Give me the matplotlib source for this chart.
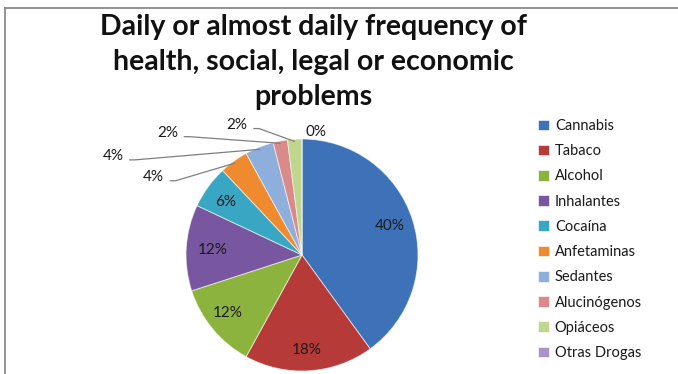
import matplotlib
matplotlib.use("Agg")
import matplotlib.pyplot as plt
from matplotlib.lines import Line2D
import numpy as np

categories = ["Cannabis", "Tabaco", "Alcohol", "Inhalantes", "Cocaína",
              "Anfetaminas", "Sedantes", "Alucinógenos", "Opiáceos", "Otras Drogas"]
values = [40, 18, 12, 12, 6, 4, 4, 2, 2, 0]
labels = ["40%", "18%", "12%", "12%", "6%", "4%", "4%", "2%", "2%", "0%"]
colors = ["#3D72B9", "#B63B38", "#8DB33F", "#7857A0", "#39A6C3",
          "#F08A2F", "#8EAEDB", "#D98A89", "#BFD68E", "#A993C9"]

# label layout (data coords, pie radius = 1); leader flag
label_pos = [(0.76, 0.25), (0.04, -0.82), (-0.64, -0.50), (-0.77, 0.04),
             (-0.66, 0.46), (-1.28, 0.67), (-1.63, 0.85), (-1.16, 1.05),
             (-0.56, 1.12), (0.12, 1.06)]
leader = [False, False, False, False, False, True, True, True, True, False]

W, H = 678, 374
fig = plt.figure(figsize=(W / 100, H / 100), dpi=100)
fig.patch.set_facecolor("white")

cx, cy, r = 302, 255, 116
ax = fig.add_axes([(cx - r) / W, (H - cy - r) / H, 2 * r / W, 2 * r / H])
wedges, _ = ax.pie(values, colors=colors, startangle=90, counterclock=False,
                   radius=1, wedgeprops=dict(edgecolor=(1, 1, 1, 0.6), linewidth=0.7))
ax.set_xlim(-1, 1)
ax.set_ylim(-1, 1)
ax.set_aspect("equal")
ax.axis("off")

font = "Lato"
for w, lab, (lx, ly), ld in zip(wedges, labels, label_pos, leader):
    ax.text(lx, ly, lab, ha="center", va="center", fontsize=11,
            family=font, color="#1a1a1a", clip_on=False)
    if ld:
        ang = np.deg2rad((w.theta1 + w.theta2) / 2)
        tx, ty = 0.98 * np.cos(ang), 0.98 * np.sin(ang)
        sx = lx + 0.14
        ex = sx + 0.05
        ax.plot([sx, ex, tx], [ly - 0.03, ly - 0.03, ty], color="#7f7f7f",
                lw=0.9, clip_on=False, solid_capstyle="butt")

fig.text(313 / W, 1 - 14 / H,
         "Daily or almost daily frequency of\nhealth, social, legal or economic\nproblems",
         ha="center", va="top", fontsize=20.5, fontweight="bold", family=font,
         linespacing=1.42, color="#111111")

leg = fig.legend(wedges, categories, loc="upper left",
                 bbox_to_anchor=(538 / W, 1 - 119 / H), frameon=False,
                 prop=dict(family=font, size=10.5), handlelength=0.75,
                 handleheight=0.75, handletextpad=0.4, labelspacing=0.77,
                 borderaxespad=0, borderpad=0)
for t in leg.get_texts():
    t.set_color("#1a1a1a")

fig.add_artist(Line2D([5 / W, 1], [1 - 8 / H, 1 - 8 / H], transform=fig.transFigure,
                      color="#8a8a8a", lw=1.3))
fig.add_artist(Line2D([5 / W, 5 / W], [0, 1 - 8 / H], transform=fig.transFigure,
                      color="#8a8a8a", lw=1.3))

fig.savefig("out.png", dpi=100)
